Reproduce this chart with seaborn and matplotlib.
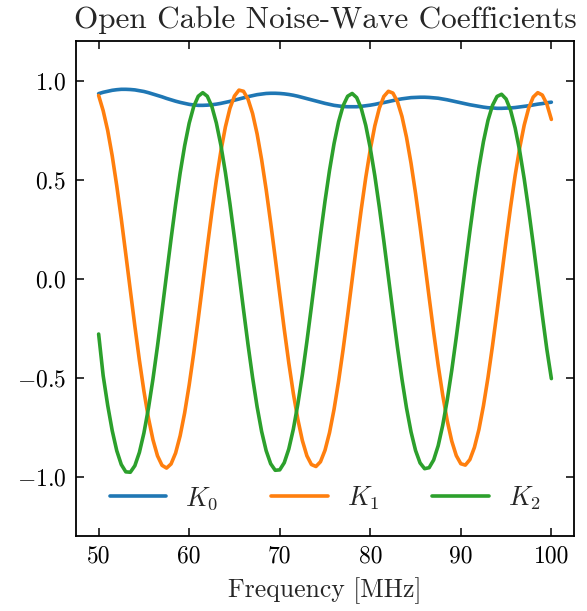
import numpy as np
import pandas as pd
import matplotlib
matplotlib.use("Agg")
import matplotlib.pyplot as plt
import seaborn as sns

# Frequency grid (MHz), 0.5 MHz spacing from 50 to 100
freq_mhz = np.arange(50.0, 100.25, 0.5)

K0 = [0.934, 0.941, 0.946, 0.951, 0.954, 0.956, 0.956, 0.955, 0.953, 0.949,
      0.945, 0.939, 0.932, 0.925, 0.918, 0.910, 0.903, 0.896, 0.890, 0.885,
      0.880, 0.877, 0.875, 0.875, 0.876, 0.878, 0.881, 0.885, 0.890, 0.895,
      0.901, 0.907, 0.913, 0.919, 0.924, 0.929, 0.932, 0.935, 0.936, 0.936,
      0.935, 0.933, 0.930, 0.926, 0.921, 0.915, 0.909, 0.903, 0.897, 0.891,
      0.885, 0.880, 0.875, 0.872, 0.869, 0.868, 0.868, 0.868, 0.870, 0.873,
      0.876, 0.880, 0.885, 0.889, 0.894, 0.899, 0.904, 0.908, 0.911, 0.914,
      0.915, 0.916, 0.916, 0.915, 0.913, 0.911, 0.907, 0.903, 0.898, 0.893,
      0.888, 0.883, 0.878, 0.874, 0.870, 0.866, 0.863, 0.862, 0.860, 0.860,
      0.861, 0.862, 0.864, 0.867, 0.870, 0.873, 0.877, 0.881, 0.884, 0.888,
      0.891]

K1 = [0.925, 0.848, 0.748, 0.620, 0.469, 0.302, 0.123, -0.059, -0.240, -0.412,
      -0.568, -0.704, -0.814, -0.895, -0.943, -0.957, -0.936, -0.881, -0.794, -0.678,
      -0.537, -0.377, -0.204, -0.023, 0.159, 0.335, 0.498, 0.644, 0.766, 0.860,
      0.922, 0.952, 0.946, 0.906, 0.834, 0.731, 0.601, 0.450, 0.282, 0.105,
      -0.077, -0.256, -0.425, -0.579, -0.711, -0.818, -0.895, -0.939, -0.949, -0.925,
      -0.867, -0.778, -0.660, -0.518, -0.358, -0.185, -0.005, 0.175, 0.349, 0.510,
      0.652, 0.771, 0.861, 0.920, 0.946, 0.937, 0.894, 0.819, 0.714, 0.583,
      0.431, 0.263, 0.086, -0.094, -0.271, -0.438, -0.588, -0.718, -0.821, -0.894,
      -0.935, -0.942, -0.914, -0.853, -0.762, -0.642, -0.500, -0.339, -0.166, 0.013,
      0.192, 0.363, 0.521, 0.660, 0.775, 0.862, 0.917, 0.939, 0.927, 0.882,
      0.804]

K2 = [-0.280, -0.490, -0.640, -0.768, -0.869, -0.939, -0.976, -0.978, -0.945, -0.878,
      -0.780, -0.655, -0.507, -0.341, -0.163, 0.020, 0.201, 0.374, 0.533, 0.671,
      0.785, 0.869, 0.921, 0.939, 0.921, 0.870, 0.786, 0.674, 0.536, 0.378,
      0.205, 0.025, -0.157, -0.334, -0.499, -0.647, -0.772, -0.869, -0.935, -0.968,
      -0.966, -0.930, -0.861, -0.761, -0.634, -0.485, -0.318, -0.141, 0.040, 0.220,
      0.391, 0.547, 0.682, 0.792, 0.873, 0.921, 0.935, 0.914, 0.860, 0.774,
      0.659, 0.520, 0.361, 0.189, 0.009, -0.171, -0.346, -0.508, -0.653, -0.774,
      -0.868, -0.931, -0.960, -0.955, -0.916, -0.844, -0.741, -0.613, -0.463, -0.296,
      -0.120, 0.061, 0.239, 0.407, 0.560, 0.692, 0.799, 0.875, 0.920, 0.931,
      0.907, 0.850, 0.761, 0.645, 0.504, 0.345, 0.173, -0.006, -0.185, -0.357,
      -0.505]

series_names = ["$K_0$", "$K_1$", "$K_2$"]
colors = ["#1f77b4", "#ff7f0e", "#2ca02c"]
x_ticks = [50, 60, 70, 80, 90, 100]
y_ticks = [-1.0, -0.5, 0.0, 0.5, 1.0]

df = pd.DataFrame({
    "Frequency": np.concatenate([freq_mhz] * 3),
    "Value": np.concatenate([K0, K1, K2]),
    "Series": np.repeat(series_names, len(freq_mhz)),
})

sns.set_theme(style="ticks")
plt.rcParams.update({
    "font.family": "serif",
    "font.serif": ["cmr10"],
    "mathtext.fontset": "cm",
    "axes.formatter.use_mathtext": True,
    "axes.unicode_minus": True,
    "xtick.direction": "in",
    "ytick.direction": "in",
    "xtick.top": True,
    "ytick.right": True,
    "xtick.major.size": 5.5,
    "ytick.major.size": 5.5,
    "xtick.major.width": 1.1,
    "ytick.major.width": 1.1,
    "axes.linewidth": 1.3,
    "axes.edgecolor": "black",
    "xtick.color": "black",
    "ytick.color": "black",
})

fig = plt.figure(figsize=(5.87, 6.11), dpi=100)
ax = fig.add_axes([76 / 587, 1 - 536 / 611, (574 - 76) / 587, (536 - 41) / 611])

sns.lineplot(data=df, x="Frequency", y="Value", hue="Series",
             palette=colors, linewidth=2.6, ax=ax, legend=True)

ax.set_xlim(47.5, 102.5)
ax.set_ylim(-1.3, 1.2)
ax.set_xticks(x_ticks)
ax.set_yticks(y_ticks)
ax.set_xticklabels([str(t) for t in x_ticks])
ax.set_yticklabels([f"${t:.1f}$" for t in y_ticks])
ax.tick_params(labelsize=17, pad=7)
ax.set_xlabel("Frequency [MHz]", fontsize=18.5, labelpad=7)
ax.set_ylabel("")
ax.set_title("Open Cable Noise-Wave Coefficients", fontsize=22.5, pad=9)

handles, labels = ax.get_legend_handles_labels()
ax.legend(handles, labels, loc="center", bbox_to_anchor=(0.5, 0.077), ncol=3,
          frameon=False, fontsize=19, handlelength=2.15, handletextpad=0.72,
          columnspacing=2.0)

fig.savefig("out.png", dpi=100)
